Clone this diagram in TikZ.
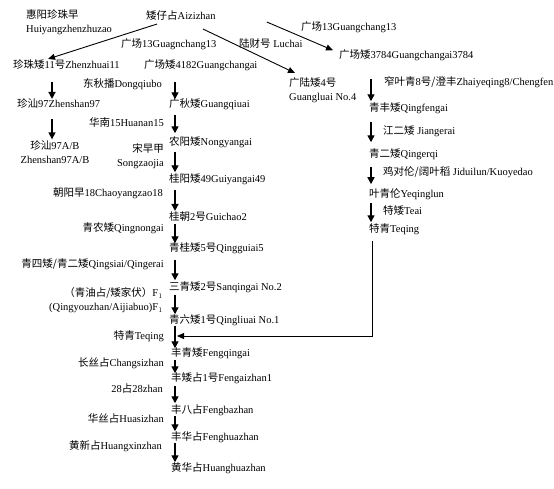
\documentclass[tikz,border=0pt]{standalone}
\usepackage{fontspec}
\setmainfont{Liberation Serif}
\newfontfamily\cjk{Noto Sans CJK SC}
\newcommand\zh[1]{{\cjk #1}}
\usetikzlibrary{arrows.meta}

\begin{document}
\begin{tikzpicture}[x=1pt,y=-1pt,
  every node/.style={inner sep=1pt, font=\fontsize{10.5}{14}\selectfont},
  lbl/.style={anchor=west},
  rlbl/.style={anchor=east},
  down/.style={line width=1.4pt,-{Triangle[length=7pt,width=7pt]}},
  gap/.style 2 args={shorten <=#1, shorten >=#2},
  slant/.style={line width=0.9pt,-{Triangle[length=7pt,width=6pt]}},
  feed/.style={line width=0.8pt,-{Triangle[length=7pt,width=6pt]}},
  ]
\useasboundingbox (0,0) rectangle (554,488);

% column guides for the vertical arrows
\coordinate (xA) at (52,0);
\coordinate (xB) at (175,0);
\coordinate (xC) at (371,0);

% top: parent and first crosses
\node[lbl, align=left] (hy) at (25,22) {\zh{惠阳珍珠早}\\Huiyangzhenzhuzao};
\node[lbl] (az) at (145,16) {\zh{矮仔占}Aizizhan};
\node[lbl] (gc13a) at (300,27) {\zh{广场}13Guangchang13};
\node[lbl] (gc13b) at (120,44) {\zh{广场}13Guagnchang13};
\node[lbl] (lc) at (238,44) {\zh{陆财号} Luchai};

\node[lbl] (zz) at (12,65) {\zh{珍珠矮}11\zh{号}Zhenzhuai11};
\node[lbl] (gca) at (143,65) {\zh{广场矮}4182Guangchangai};
\node[lbl] (gcb) at (338,55) {\zh{广场矮}3784Guangchangai3784};
\node[lbl, align=left, anchor=north west] (gl) at (288,76) {\zh{广陆矮}4\zh{号}\\Guangluai No.4};

% left branch
\node[lbl] (zs) at (16,103) {\zh{珍汕}97Zhenshan97};
\node[align=center] (zab) at (55,152) {\zh{珍汕}97A/B\\Zhenshan97A/B};

% main column
\node[lbl] (gqa) at (168,104) {\zh{广秋矮}Guangqiuai};
\node[lbl] (nya) at (168,142) {\zh{农阳矮}Nongyangai};
\node[lbl] (gya) at (168,179) {\zh{桂阳矮}49Guiyangai49};
\node[lbl] (gch) at (168,217) {\zh{桂朝}2\zh{号}Guichao2};
\node[lbl] (qgu) at (168,248) {\zh{青桂矮}5\zh{号}Qingguiai5};
\node[lbl] (sqa) at (168,287) {\zh{三青矮}2\zh{号}Sanqingai No.2};
\node[lbl] (qla) at (168,320) {\zh{青六矮}1\zh{号}Qingliuai No.1};
\node[lbl] (fqa) at (170,353) {\zh{丰青矮}Fengqingai};
\node[lbl] (faz) at (170,378) {\zh{丰矮占}1\zh{号}Fengaizhan1};
\node[lbl] (fbz) at (170,410) {\zh{丰八占}Fengbazhan};
\node[lbl] (fhz) at (170,437) {\zh{丰华占}Fenghuazhan};
\node[lbl] (hhz) at (170,468) {\zh{黄华占}Huanghuazhan};

% co-parents of the main column
\node[rlbl] (dqb) at (163,84) {\zh{东秋播}Dongqiubo};
\node[rlbl] (hn) at (165,122) {\zh{华南}15Huanan15};
\node[rlbl, align=right] (szj) at (165,156) {\zh{宋早甲}\\Songzaojia};
\node[rlbl] (cy) at (164,193) {\zh{朝阳早}18Chaoyangzao18};
\node[rlbl] (qn) at (165,228) {\zh{青农矮}Qingnongai};
\node[rlbl] (qs) at (165,264) {\zh{青四矮/青二矮}Qingsiai/Qingerai};
\node[rlbl, align=right] (qy) at (164,300) {\zh{（青油占/矮家伏）}F$_1$\\(Qingyouzhan/Aijiabuo)F$_1$};
\node[rlbl] (tql) at (165,336) {\zh{特青}Teqing};
\node[rlbl] (csz) at (165,363) {\zh{长丝占}Changsizhan};
\node[rlbl] (z28) at (164,388) {28\zh{占}28zhan};
\node[rlbl] (hsz) at (165,418) {\zh{华丝占}Huasizhan};
\node[rlbl] (hxz) at (163,446) {\zh{黄新占}Huangxinzhan};

% right column
\node[lbl] (zq) at (383,82) {\zh{窄叶青}8\zh{号/澄丰}Zhaiyeqing8/Chengfen};
\node[lbl] (qf) at (368,108) {\zh{青丰矮}Qingfengai};
\node[lbl] (jer) at (382,131) {\zh{江二矮} Jiangerai};
\node[lbl] (qe) at (368,154) {\zh{青二矮}Qingerqi};
\node[lbl] (jd) at (382,172) {\zh{鸡对伦/阔叶稻} Jiduilun/Kuoyedao};
\node[lbl] (yq) at (368,194) {\zh{叶青伦}Yeqinglun};
\node[lbl] (ta) at (382,211) {\zh{特矮}Teai};
\node[lbl] (tqr) at (368,229) {\zh{特青}Teqing};

% crosses from Aizizhan
\draw[slant] ([xshift=12pt,yshift=-2pt]az.south west) -- ([xshift=36pt]zz.north west);
\draw[slant] ([xshift=58pt,yshift=-7pt]az.south west) -- ([xshift=7pt,yshift=3pt]gl.north west);
\draw[slant] ([xshift=50pt,yshift=-6pt]az.east) -- ([xshift=-5pt,yshift=-2pt]gcb.north west);

% left branch arrows
\draw[down, gap={11pt}{-2pt}] (zz.south -| xA) -- (zs.north -| xA);
\draw[down, gap={10pt}{0pt}] (zs.south -| xA) -- (zab.north -| xA);

% main column arrows
\draw[down, gap={10pt}{-2pt}] (gca.south -| xB) -- (gqa.north -| xB);
\draw[down, gap={4pt}{2pt}] (gqa.south -| xB) -- (nya.north -| xB);
\draw[down, gap={3pt}{0pt}] (nya.south -| xB) -- (gya.north -| xB);
\draw[down, gap={4pt}{0pt}] (gya.south -| xB) -- (gch.north -| xB);
\draw[down, gap={1pt}{-2pt}] (gch.south -| xB) -- (qgu.north -| xB);
\draw[down, gap={5pt}{0pt}] (qgu.south -| xB) -- (sqa.north -| xB);
\draw[down, gap={1pt}{-1pt}] (sqa.south -| xB) -- (qla.north -| xB);
\draw[down, gap={-1pt}{-2pt}] (qla.south -| xB) -- (fqa.north -| xB);
\draw[down, gap={0pt}{-2pt}] (fqa.south -| xB) -- (faz.north -| xB);
\draw[down, gap={1pt}{0pt}] (faz.south -| xB) -- (fbz.north -| xB);
\draw[down, gap={-1pt}{-1pt}] (fbz.south -| xB) -- (fhz.north -| xB);
\draw[down, gap={-1pt}{-1pt}] (fhz.south -| xB) -- (hhz.north -| xB);

% right column arrows
\draw[down, gap={17pt}{0pt}] (gcb.south -| xC) -- (qf.north -| xC);
\draw[down, gap={7pt}{5pt}] (qf.south -| xC) -- (qe.north -| xC);
\draw[down, gap={6pt}{3pt}] (qe.south -| xC) -- (yq.north -| xC);
\draw[down, gap={2pt}{0pt}] (yq.south -| xC) -- (tqr.north -| xC);

% Teqing feeding back into the main column
\coordinate (join) at (177,336);
\draw[feed] ([xshift=4pt,yshift=-5pt]tqr.south west) |- (join);
\end{tikzpicture}
\end{document}
